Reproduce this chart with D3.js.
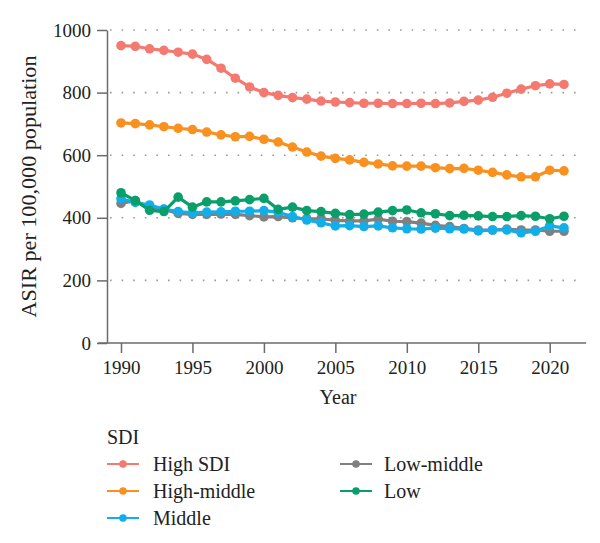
<!DOCTYPE html>
<html><head><meta charset="utf-8">
<script src="https://cdn.jsdelivr.net/npm/d3@7"></script>
<style>body{margin:0;background:#fff}svg{display:block}text{font-family:"Liberation Serif","Times New Roman",serif;fill:#222}</style>
</head><body><svg id="c" width="600" height="543"></svg>
<script>
const years = d3.range(1990, 2022);
const seriesNames = ["High SDI","High-middle","Middle","Low-middle","Low"];
const highSDI = [950,948,940,935,929,923,906,878,846,818,800,791,784,779,773,770,768,766,766,765,765,766,765,767,772,776,785,798,811,822,828,826];
const highMiddle = [703,701,697,691,686,682,674,665,659,660,651,642,626,610,597,590,585,577,572,566,565,565,560,557,558,552,545,537,531,531,552,550];
const middle = [461,449,441,428,420,416,418,419,421,421,423,418,404,393,384,374,375,372,374,368,365,364,367,365,364,358,361,361,352,357,374,368];
const lowMiddle = [446,455,432,427,414,411,411,412,411,407,403,404,400,397,397,392,390,390,396,389,388,383,376,372,366,361,361,364,361,361,357,357];
const low = [480,455,424,420,466,434,451,451,454,458,462,427,434,423,420,414,410,412,418,423,425,416,413,407,408,406,404,404,407,405,397,405];
const yTicks = [0,200,400,600,800,1000];
const xTicks = [1990,1995,2000,2005,2010,2015,2020];
const colors = ["#F47A70","#F8911F","#12AEEA","#808080","#0A9F6A"];
const data = [highSDI, highMiddle, middle, lowMiddle, low];

const svg = d3.select("#c");
const x = d3.scaleLinear().domain([1990, 2021]).range([121, 564]);
const y = d3.scaleLinear().domain([0, 1000]).range([343, 30]);
const axisColor = "#6b6b6b";

// grid
svg.append("g").selectAll("line").data(yTicks.filter(d => d > 0)).join("line")
  .attr("x1", 110).attr("x2", 584).attr("y1", d => y(d)).attr("y2", d => y(d))
  .attr("stroke", "#9a9a9a").attr("stroke-width", 1.6)
  .attr("stroke-dasharray", "1.6,10").attr("stroke-linecap", "butt");

// y axis
const yAxis = svg.append("g").attr("transform", "translate(107,0)")
  .call(d3.axisLeft(y).tickValues(yTicks).tickFormat(d3.format("d")).tickSize(10).tickPadding(6).tickSizeOuter(0));
yAxis.select(".domain").attr("stroke", axisColor).attr("stroke-width", 1.5);
yAxis.selectAll(".tick line").attr("stroke", axisColor).attr("stroke-width", 1.5);
yAxis.selectAll(".tick text").attr("font-size", 19).attr("font-family", "Liberation Serif").attr("fill", "#222");

// x axis
const xAxis = svg.append("g").attr("transform", "translate(0,343)")
  .call(d3.axisBottom(x).tickValues(xTicks).tickFormat(d3.format("d")).tickSize(10).tickPadding(8).tickSizeOuter(0));
xAxis.select(".domain").attr("d", `M${x(1988.4)},0H${x(2022.55)}`).attr("stroke", axisColor).attr("stroke-width", 1.5);
xAxis.selectAll(".tick line").attr("stroke", axisColor).attr("stroke-width", 1.5);
xAxis.selectAll(".tick text").attr("font-size", 19).attr("font-family", "Liberation Serif").attr("fill", "#222");

// titles
svg.append("text").attr("x", 338).attr("y", 404).attr("text-anchor", "middle").attr("font-size", 20).text("Year");
svg.append("text").attr("transform", `translate(36,${y(500)}) rotate(-90)`).attr("text-anchor", "middle")
  .attr("font-size", 20).attr("textLength", 262).attr("lengthAdjust", "spacingAndGlyphs").text("ASIR per 100,000 population");

// series
const line = d3.line().x((d, i) => x(years[i])).y(d => y(d));
const order = [0, 1, 3, 2, 4];
order.forEach(k => {
  const g = svg.append("g");
  g.append("path").datum(data[k]).attr("d", line).attr("fill", "none")
    .attr("stroke", colors[k]).attr("stroke-width", 3.2).attr("stroke-linejoin", "round");
  g.selectAll("circle").data(data[k]).join("circle")
    .attr("cx", (d, i) => x(years[i])).attr("cy", d => y(d)).attr("r", 4.8).attr("fill", colors[k]);
});

// legend
svg.append("text").attr("x", 107).attr("y", 444).attr("font-size", 20).text("SDI");
const legPos = [[107,464],[107,491],[107,518],[340,464],[340,491]];
seriesNames.forEach((n, k) => {
  const [lx, ly] = legPos[k];
  const g = svg.append("g");
  g.append("line").attr("x1", lx).attr("x2", lx + 32).attr("y1", ly).attr("y2", ly)
    .attr("stroke", colors[k]).attr("stroke-width", 2);
  g.append("circle").attr("cx", lx + 16).attr("cy", ly).attr("r", 3.8).attr("fill", colors[k]);
  g.append("text").attr("x", lx + (k < 3 ? 46 : 44)).attr("y", ly + 7).attr("font-size", 20).text(n);
});
</script></body></html>
